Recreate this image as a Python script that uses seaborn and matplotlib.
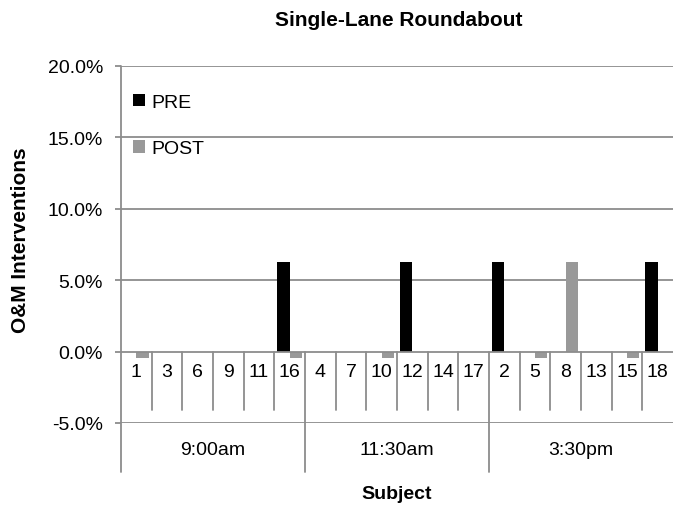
import matplotlib
matplotlib.use('Agg')
import matplotlib.pyplot as plt
import seaborn as sns
import pandas as pd
from matplotlib.patches import Patch

subjects = ['1', '3', '6', '9', '11', '16', '4', '7', '10', '12', '14', '17', '2', '5', '8', '13', '15', '18']
time_groups = ['9:00am', '11:30am', '3:30pm']
group_sizes = [6, 6, 6]
pre_values = [0, 0, 0, 0, 0, 6.25, 0, 0, 0, 6.25, 0, 0, 6.25, 0, 0, 0, 0, 6.25]
post_values = [-0.45, 0, 0, 0, 0, -0.45, 0, 0, -0.45, 0, 0, 0, 0, -0.45, 6.25, 0, -0.45, 0]
series = ['PRE', 'POST']
colors = {'PRE': '#000000', 'POST': '#999999'}
y_ticks = [-5, 0, 5, 10, 15, 20]

df = pd.DataFrame({
    'Subject': subjects * 2,
    'Phase': ['PRE'] * len(subjects) + ['POST'] * len(subjects),
    'Value': pre_values + post_values,
})

sns.set_theme(style='white')
plt.rcParams['font.family'] = ['Liberation Sans', 'DejaVu Sans']
plt.rcParams['text.color'] = 'black'
plt.rcParams['axes.labelcolor'] = 'black'
plt.rcParams['xtick.color'] = 'black'
plt.rcParams['ytick.color'] = 'black'

W, H = 673, 506
fig = plt.figure(figsize=(W / 100, H / 100), dpi=100)
ax = fig.add_axes([121 / W, 1 - 424 / H, (673 - 121) / W, (424 - 67) / H])

sns.barplot(data=df, x='Subject', y='Value', hue='Phase', order=subjects,
            hue_order=series, palette=colors, width=0.8, saturation=1,
            ax=ax, legend=False, linewidth=0, edgecolor='none', zorder=2)

n = len(subjects)
ax.set_xlim(-0.5, n - 0.5)
ax.set_ylim(-5, 20)
ax.set_xticks([])
ax.set_xlabel('')
ax.set_ylabel('')
for s in ax.spines.values():
    s.set_visible(False)

gcol = '#8c8c8c'
for y in y_ticks:
    ax.axhline(y, color=gcol, lw=1.3, zorder=3 if y == 0 else 0)

ax.set_yticks(y_ticks)
ax.set_yticklabels([f'{v:.1f}%' for v in y_ticks])
ax.tick_params(axis='y', left=True, length=4, width=1.3, color=gcol, pad=9,
               labelsize=14, labelcolor='black')

low = -8.45
ax.plot([-0.5, -0.5], [20, low], color=gcol, lw=1.3, clip_on=False, zorder=3)

bounds = []
acc = 0
for g in group_sizes:
    acc += g
    bounds.append(acc)
for k in range(1, n):
    y_end = low if k in bounds else -4.1
    ax.plot([k - 0.5, k - 0.5], [0, y_end], color=gcol, lw=1.3, clip_on=False, zorder=3)

for i, s in enumerate(subjects):
    ax.text(i, -1.4, s, ha='center', va='center', fontsize=14, color='black')

start = 0
for g, size in zip(time_groups, group_sizes):
    ax.text(start + (size - 1) / 2, -6.85, g, ha='center', va='center', fontsize=14, color='black')
    start += size

fig.text(399 / W, 1 - 21 / H, 'Single-Lane Roundabout', ha='center', va='center',
         fontsize=15, fontweight='bold', color='black')
fig.text(397 / W, 1 - 495 / H, 'Subject', ha='center', va='center',
         fontsize=14, fontweight='bold', color='black')
fig.text(21 / W, 1 - 240 / H, 'O&M Interventions', ha='center', va='center',
         rotation=90, fontsize=15, fontweight='bold', color='black')

handles = [Patch(facecolor=colors[s], edgecolor='none', label=s) for s in series]
leg = ax.legend(handles=handles, loc='upper left', bbox_to_anchor=(133 / W, 1 - 95 / H),
                bbox_transform=fig.transFigure, frameon=False, fontsize=14,
                handlelength=0.6, handleheight=0.6, handletextpad=0.35,
                labelspacing=1.5, borderaxespad=0, borderpad=0)
for t in leg.get_texts():
    t.set_color('black')

fig.savefig('out.png', dpi=100)
